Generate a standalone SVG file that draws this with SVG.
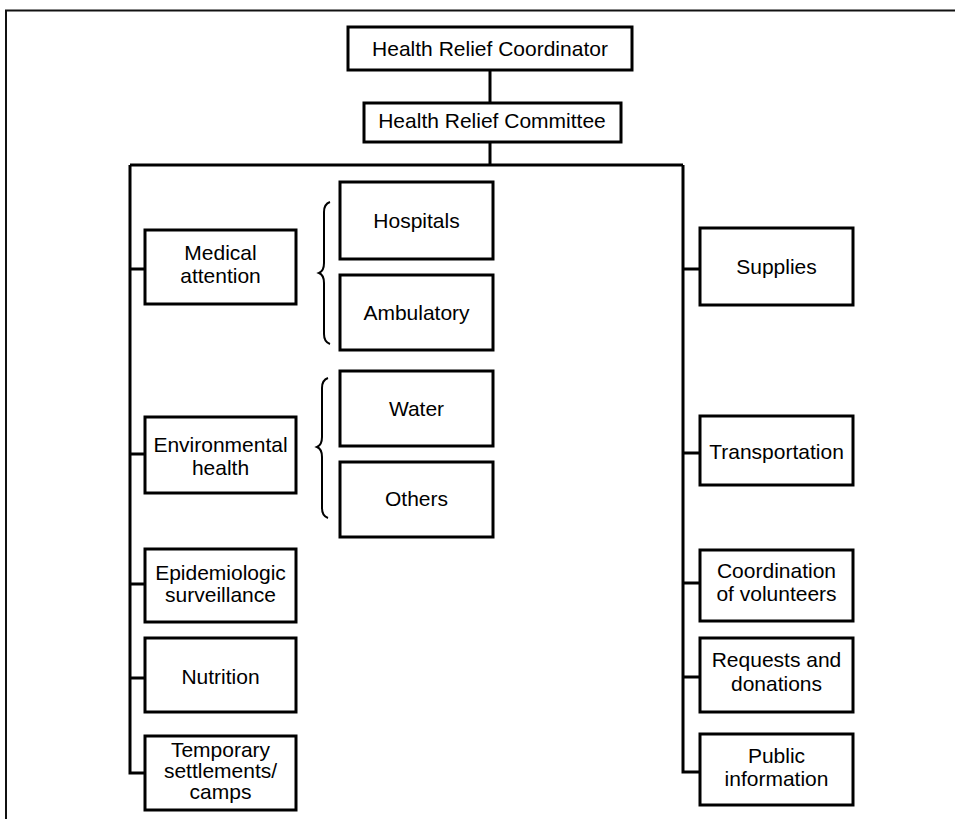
<svg xmlns="http://www.w3.org/2000/svg" width="955" height="819" viewBox="0 0 955 819">
<style>
.box{fill:#fff;stroke:#000;stroke-width:3}
.t{font-family:"Liberation Sans",Arial,sans-serif;font-size:21px;fill:#000;text-anchor:middle}
.ln{fill:none;stroke:#000;stroke-width:3}
.br{fill:none;stroke:#000;stroke-width:2}
.frame{fill:none;stroke:#111;stroke-width:2}
</style>
<rect width="955" height="819" fill="#fff"/>
<path class="frame" d="M6,819 V10.5 H955"/>
<g id="connectors">
<path class="ln" d="M490,70 V103"/>
<path class="ln" d="M490,142 V165"/>
<path class="ln" d="M130,165 H683"/>
<path class="ln" d="M130,165 V773 H145"/>
<path class="ln" d="M130,269 H145 M130,454 H145 M130,584 H145 M130,678 H145"/>
<path class="ln" d="M683,165 V772 H700"/>
<path class="ln" d="M683,269 H700 M683,453 H700 M683,583 H700 M683,677 H700"/>
<path class="br" d="M330,202 Q324,204 324,212 L324,263 Q324,271 319,273 Q324,275 324,283 L324,334 Q324,342 330,344"/>
<path class="br" d="M328,378 Q322,380 322,388 L322,437 Q322,445 317,447 Q322,449 322,457 L322,508 Q322,516 328,518"/>
</g>
<g id="coordinator"><rect class="box" x="348" y="27" width="284" height="43"/><text class="t" x="490" y="56">Health Relief Coordinator</text></g>
<g id="committee"><rect class="box" x="364" y="103" width="257" height="39"/><text class="t" x="492" y="128">Health Relief Committee</text></g>
<g id="medical"><rect class="box" x="145" y="230" width="151" height="74"/><text class="t" x="220.5" y="260">Medical</text><text class="t" x="220.5" y="283">attention</text></g>
<g id="hospitals"><rect class="box" x="340" y="182" width="153" height="77"/><text class="t" x="416.5" y="228">Hospitals</text></g>
<g id="ambulatory"><rect class="box" x="340" y="275" width="153" height="75"/><text class="t" x="416.5" y="320">Ambulatory</text></g>
<g id="water"><rect class="box" x="340" y="371" width="153" height="75"/><text class="t" x="416.5" y="416">Water</text></g>
<g id="others"><rect class="box" x="340" y="462" width="153" height="75"/><text class="t" x="416.5" y="506">Others</text></g>
<g id="environmental"><rect class="box" x="145" y="417" width="151" height="76"/><text class="t" x="220.5" y="452">Environmental</text><text class="t" x="220.5" y="475">health</text></g>
<g id="epidemiologic"><rect class="box" x="145" y="549" width="151" height="73"/><text class="t" x="220.5" y="580">Epidemiologic</text><text class="t" x="220.5" y="602">surveillance</text></g>
<g id="nutrition"><rect class="box" x="145" y="638" width="151" height="74"/><text class="t" x="220.5" y="684">Nutrition</text></g>
<g id="temporary"><rect class="box" x="145" y="736" width="151" height="74"/><text class="t" x="220.5" y="757">Temporary</text><text class="t" x="220.5" y="778">settlements/</text><text class="t" x="220.5" y="799">camps</text></g>
<g id="supplies"><rect class="box" x="700" y="228" width="153" height="77"/><text class="t" x="776.5" y="274">Supplies</text></g>
<g id="transportation"><rect class="box" x="700" y="416" width="153" height="69"/><text class="t" x="776.5" y="459">Transportation</text></g>
<g id="coordination"><rect class="box" x="700" y="550" width="153" height="71"/><text class="t" x="776.5" y="578">Coordination</text><text class="t" x="776.5" y="601">of volunteers</text></g>
<g id="requests"><rect class="box" x="700" y="638" width="153" height="74"/><text class="t" x="776.5" y="667">Requests and</text><text class="t" x="776.5" y="691">donations</text></g>
<g id="public"><rect class="box" x="700" y="734" width="153" height="71"/><text class="t" x="776.5" y="763">Public</text><text class="t" x="776.5" y="786">information</text></g>
</svg>
